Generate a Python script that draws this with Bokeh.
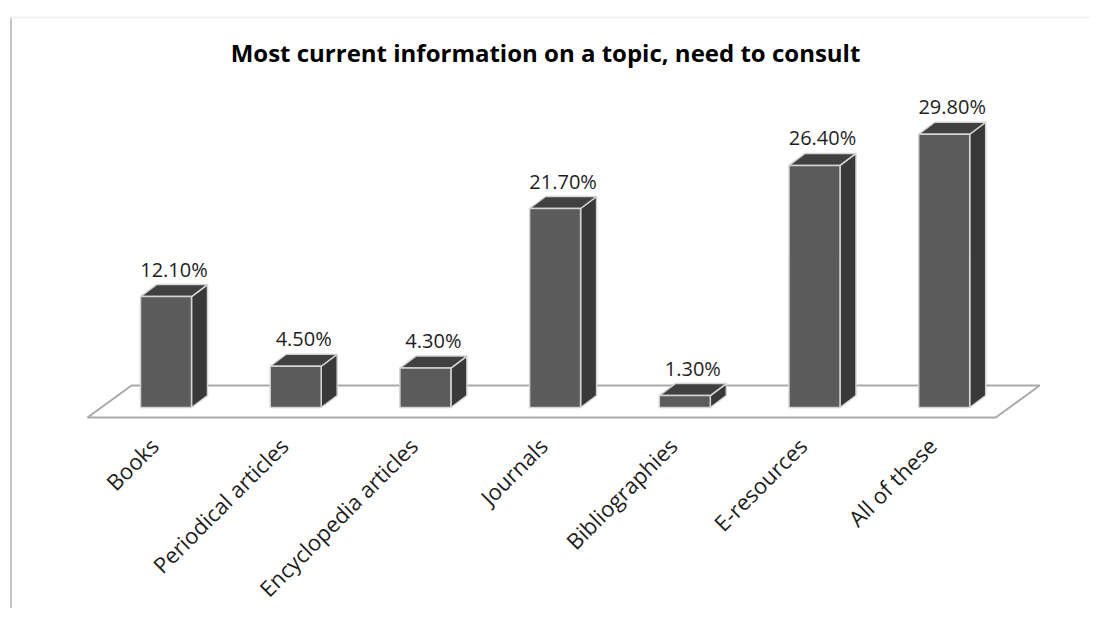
import math
import numpy as np
from bokeh.plotting import figure
from bokeh.models import Range1d, Label
from bokeh.embed import file_html
from bokeh.resources import INLINE
from bokeh.core.properties import value

categories = ["Books", "Periodical articles", "Encyclopedia articles", "Journals",
              "Bibliographies", "E-resources", "All of these"]
percent = [12.1, 4.5, 4.3, 21.7, 1.3, 26.4, 29.8]
value_labels = ["12.10%", "4.50%", "4.30%", "21.70%", "1.30%", "26.40%", "29.80%"]
title_text = "Most current information on a topic, need to consult"

FONT = "Open Sans"
W, H = 1090, 608
PX_X = 129.7   # pixels per category step
PX_Y = 9.17    # pixels per percent
x0 = -165.5 / PX_X
y0 = -(H - 407) / PX_Y

p = figure(width=W, height=H, x_range=Range1d(x0, x0 + W / PX_X),
           y_range=Range1d(y0, y0 + H / PX_Y), output_backend="svg",
           toolbar_location=None, min_border=0,
           x_axis_location=None, y_axis_location=None)
p.grid.visible = False
p.outline_line_color = None
p.background_fill_color = "white"
p.border_fill_color = "white"

n = len(categories)
xs = np.arange(n, dtype=float)
v = np.array(percent, dtype=float)

hw = 25.5 / PX_X
dx = 16 / PX_X
dy = 12 / PX_Y

# frame lines (left and faint top)
lx = x0 + 10.5 / PX_X
ty = y0 + (H - 17) / PX_Y
p.segment(x0=[lx], x1=[lx], y0=[y0 - 5], y1=[ty],
          line_color="#c4c4c4", line_width=2)
p.segment(x0=[lx], x1=[x0 + W / PX_X], y0=[ty], y1=[ty],
          line_color="#f2f2f2", line_width=2)

# floor
fl_front_y = -10 / PX_Y
fl_back_y = 22 / PX_Y
fl_l = -78.5 / PX_X
fl_r = (n - 1) + 51.5 / PX_X
fl_shift = 44 / PX_X
p.patch(x=[fl_l, fl_r, fl_r + fl_shift, fl_l + fl_shift],
        y=[fl_front_y, fl_front_y, fl_back_y, fl_back_y],
        fill_color="white", line_color="#a9a9a9", line_width=2)

edge = "#d4d4d4"
# side faces
side_x = [[c + hw, c + hw + dx, c + hw + dx, c + hw] for c in xs]
side_y = [[0, dy, t + dy, t] for t in v]
p.patches(xs=side_x, ys=side_y, fill_color="#393939", line_color=edge, line_width=1.5)
# top faces
top_x = [[c - hw, c + hw, c + hw + dx, c - hw + dx] for c in xs]
top_y = [[t, t, t + dy, t + dy] for t in v]
p.patches(xs=top_x, ys=top_y, fill_color="#404040", line_color=edge, line_width=1.5)
# front faces
p.quad(left=xs - hw, right=xs + hw, bottom=0, top=v,
       fill_color="#5b5b5b", line_color=edge, line_width=1.5)

# value labels
p.text(x=xs + dx / 2, y=v + dy, text=value_labels, y_offset=-2,
       text_align="center", text_baseline="bottom",
       text_font=value(FONT), text_font_size="20px", text_color="#1e1e1e")

# category labels
p.text(x=xs, y=[0] * n, text=categories, angle=math.pi / 4,
       x_offset=-12, y_offset=34, text_align="right", text_baseline="middle",
       text_font=value(FONT), text_font_size="22px", text_color="#1e1e1e")

p.add_layout(Label(x=545, y=H - 52, x_units="screen", y_units="screen",
                   text=title_text, text_align="center", text_baseline="middle",
                   text_font=FONT, text_font_size="24px", text_font_style="bold",
                   text_color="#000000"))

open("out.html", "w").write(file_html(p, INLINE))
